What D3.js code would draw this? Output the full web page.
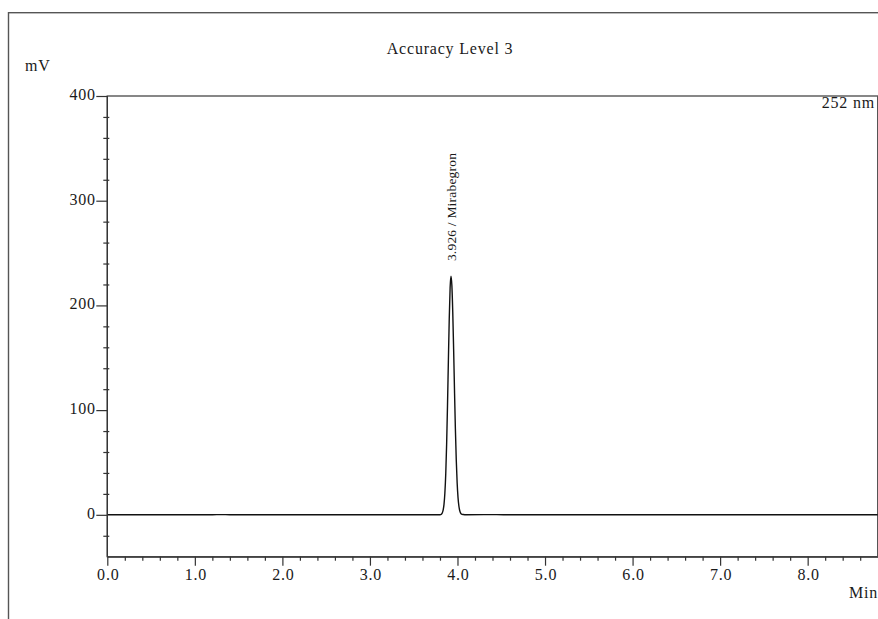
<!DOCTYPE html>
<head>
	<meta charset="utf-8">
	<style> /* set the CSS */

	body { margin: 0; background: #fff; }

	text {
	  font-family: "Liberation Serif", "Times New Roman", serif;
	  font-size: 16px;
	  letter-spacing: 0.8px;
	  fill: #1a1a1a;
	}

	.trace {
	  fill: none;
	  stroke: #111;
	  stroke-width: 1.4px;
	}

	.frame {
	  fill: none;
	  stroke: #555;
	  stroke-width: 1.4px;
	}

	.axis path, .axis line {
	  stroke: #333;
	  stroke-width: 1.2px;
	}

	.peaklabel {
	  font-size: 13.5px;
	  letter-spacing: 0.2px;
	}
	</style>
</head>
<body>

<!-- load the d3.js library -->
<script src="https://d3js.org/d3.v7.min.js"></script>
<script>

// chromatogram trace (time in min, signal in mV)
var times = [0, 1.15, 1.25, 1.35, 1.45, 3.70, 3.80, 3.816, 3.826, 3.836, 3.846, 3.856, 3.866,
             3.876, 3.886, 3.896, 3.906, 3.916, 3.926, 3.936, 3.946, 3.956, 3.966, 3.976,
             3.986, 3.996, 4.006, 4.016, 4.026, 4.036, 4.046, 4.066, 4.10, 4.30, 4.45, 4.60,
             6.0, 8.8];
var mV    = [0, 0, 0.2, 0.2, 0, 0, 0, 0.6, 1.7, 4.4, 10.0, 20.8, 39.3,
             67.3, 104.4, 146.9, 187.6, 217.1, 228, 218.9, 193.6, 158.0, 118.6, 82.2,
             52.5, 30.9, 16.7, 8.4, 3.9, 1.6, 0.7, 0.3, 0.1, 0.2, 0.2, 0,
             0, 0];

// peak annotation
var peakTimes = [3.926];
var peakHeights = [228];
var peakNames = ["Mirabegron"];

// axis ticks
var xMajor = [0, 1, 2, 3, 4, 5, 6, 7, 8];
var xMinor = [0.2, 0.4, 0.6, 0.8, 1.2, 1.4, 1.6, 1.8, 2.2, 2.4, 2.6, 2.8, 3.2, 3.4, 3.6, 3.8,
              4.2, 4.4, 4.6, 4.8, 5.2, 5.4, 5.6, 5.8, 6.2, 6.4, 6.6, 6.8, 7.2, 7.4, 7.6, 7.8,
              8.2, 8.4, 8.6];
var yMajor = [0, 100, 200, 300, 400];
var yMinor = [-20, 20, 40, 60, 80, 120, 140, 160, 180, 220, 240, 260, 280, 320, 340, 360, 380];

var title = "Accuracy Level 3";
var wavelength = "252 nm";

// page size and plot box
var width = 878, height = 619;
var margin = {top: 96, right: 0.3, bottom: 62.3, left: 107.3};

// set the ranges
var x = d3.scaleLinear().domain([0, 8.8]).range([margin.left, width - margin.right]);
var y = d3.scaleLinear().domain([-40, 400]).range([height - margin.bottom, margin.top]);

var data = times.map(function(t, i) { return {time: t, value: mV[i]}; });

var svg = d3.select("body").append("svg")
    .attr("width", width)
    .attr("height", height);

// outer frame of the report (only top and left visible)
svg.append("rect")
    .attr("class", "frame")
    .attr("x", 8.5)
    .attr("y", 12.7)
    .attr("width", 1000)
    .attr("height", 800);

// plot box
svg.append("rect")
    .attr("class", "frame")
    .attr("x", x(0))
    .attr("y", y(400))
    .attr("width", x(8.8) - x(0))
    .attr("height", y(-40) - y(400));

// the trace
var line = d3.line()
    .curve(d3.curveMonotoneX)
    .x(function(d) { return x(d.time); })
    .y(function(d) { return y(d.value); });

svg.append("path")
    .datum(data)
    .attr("class", "trace")
    .attr("d", line);

// Y axis, major ticks outward
var yAxis = svg.append("g")
    .attr("class", "axis")
    .attr("transform", "translate(" + x(0) + ",0)")
    .call(d3.axisLeft(y).tickValues(yMajor).tickSize(11).tickSizeOuter(0).tickFormat(d3.format("d")));
yAxis.selectAll("text")
    .attr("x", -11.5)
    .attr("dy", "0.22em");
yAxis.select(".domain").remove();
yAxis.append("line")
    .attr("y1", y(-40)).attr("y2", y(400));

// Y minor ticks cross the axis
svg.append("g")
    .attr("class", "axis")
    .attr("transform", "translate(" + (x(0) + 2) + ",0)")
    .call(d3.axisLeft(y).tickValues(yMinor).tickSize(6).tickFormat(""))
    .select(".domain").remove();

// X axis
var xAxis = svg.append("g")
    .attr("class", "axis")
    .attr("transform", "translate(0," + y(-40) + ")")
    .call(d3.axisBottom(x).tickValues(xMajor).tickSize(9).tickSizeOuter(0).tickFormat(d3.format(".1f")));
xAxis.selectAll("text")
    .attr("y", 23.3)
    .attr("dy", null)
    .attr("dx", "0.03em");

svg.append("g")
    .attr("class", "axis")
    .attr("transform", "translate(0," + y(-40) + ")")
    .call(d3.axisBottom(x).tickValues(xMinor).tickSize(4).tickFormat(""))
    .select(".domain").remove();

// title and units
svg.append("text")
    .attr("x", 450)
    .attr("y", 54.3)
    .attr("text-anchor", "middle")
    .text(title);

svg.append("text")
    .attr("x", 25)
    .attr("y", 71)
    .text("mV");

svg.append("text")
    .attr("x", 875)
    .attr("y", 108.3)
    .attr("text-anchor", "end")
    .text(wavelength);

svg.append("text")
    .attr("x", 878)
    .attr("y", 598)
    .attr("text-anchor", "end")
    .text("Min");

// peak labels, rotated above the apex
peakTimes.forEach(function(t, i) {
  var px = x(t) + 5, py = y(peakHeights[i]) - 15;
  svg.append("text")
      .attr("class", "peaklabel")
      .attr("transform", "translate(" + px + "," + py + ") rotate(-90)")
      .text(d3.format(".3f")(t) + " / " + peakNames[i]);
});

</script>
</body>
